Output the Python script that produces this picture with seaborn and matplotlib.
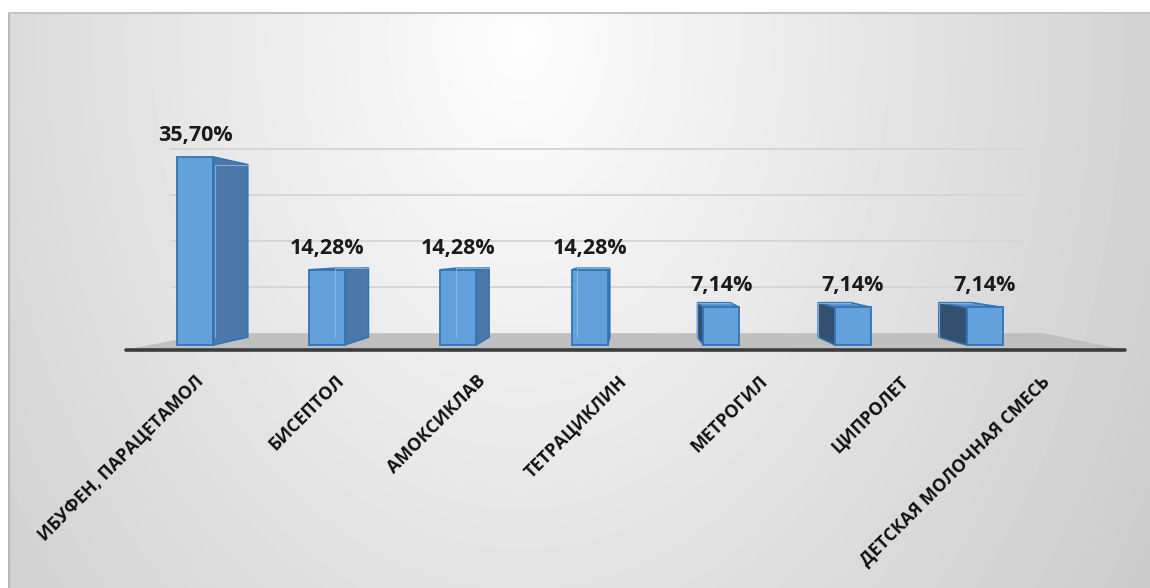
"""Pseudo-3D column chart: share of medicines (percent)."""
import matplotlib
matplotlib.use("Agg")
import matplotlib.pyplot as plt
from matplotlib.patches import Polygon
import numpy as np
import seaborn as sns

# -- Data ----------------------------------------------------------------------
drugs = [
    "ИБУФЕН, ПАРАЦЕТАМОЛ",
    "БИСЕПТОЛ",
    "АМОКСИКЛАВ",
    "ТЕТРАЦИКЛИН",
    "МЕТРОГИЛ",
    "ЦИПРОЛЕТ",
    "ДЕТСКАЯ МОЛОЧНАЯ СМЕСЬ",
]
shares = [35.70, 14.28, 14.28, 14.28, 7.14, 7.14, 7.14]
grid_values = [10, 20, 30, 40]

# -- Style ---------------------------------------------------------------------
W, H, DPI = 1150, 588, 100
FRONT = "#64a0dc"
EDGE = "#2f75b6"
SIDE_RIGHT = "#4b78a8"
SIDE_LEFT = "#33506f"
TOP = "#5b94cf"
FLOOR = "#bfbfbf"

# perspective: vanishing point (data units) and depth factors
VP_X, VP_Y = 3.32, 18.0
BAR_DEPTH = 0.083
FLOOR_FRONT, FLOOR_BACK = -0.05, 0.125
FLOOR_X = (-0.34, 6.89)

sns.set_theme(style="white")
plt.rcParams["font.family"] = ["Open Sans", "DejaVu Sans"]


def proj(x, y, t):
    return x + t * (VP_X - x), y + t * (VP_Y - y)


fig = plt.figure(figsize=(W / DPI, H / DPI), dpi=DPI)
fig.patch.set_facecolor("white")

# -- Background gradient -------------------------------------------------------
bg = fig.add_axes([8 / W, 0, 1 - 8 / W, (H - 12) / H], zorder=-5)
yy, xx = np.mgrid[12:H, 8:W]
dist = np.sqrt(((xx - 520) / 650.0) ** 2 + ((yy - 40) / 900.0) ** 2)
shade = np.clip(253 - 44 * dist, 0, 255) / 255.0
bg.imshow(shade, cmap="gray", vmin=0, vmax=1, aspect="auto",
          extent=[0, 1, 0, 1], interpolation="bilinear")
bg.axvline(0.001, color="#b8b8b8", lw=1.5)
bg.axhline(0.999, color="#c4c4c4", lw=1.5)
bg.set_axis_off()

# -- Main axes -----------------------------------------------------------------
ax = fig.add_axes([0, (H - 372) / H, 1, 372 / H])
ax.set_facecolor("none")
sns.barplot(x=drugs, y=shares, color=FRONT, width=0.274, saturation=1,
            edgecolor=EDGE, linewidth=1.3, ax=ax, zorder=4)
ax.set_xlim(-1.482, 7.257)
ax.set_ylim(-5.12, 65.46)
bars = ax.containers[0]

# floor
fl, fr = FLOOR_X
floor_pts = [proj(fl, 0, FLOOR_FRONT), proj(fr, 0, FLOOR_FRONT),
             proj(fr, 0, FLOOR_BACK), proj(fl, 0, FLOOR_BACK)]
ax.add_patch(Polygon(floor_pts, closed=True, facecolor=FLOOR, edgecolor="none", zorder=1))
ax.plot([floor_pts[0][0], floor_pts[1][0]], [floor_pts[0][1], floor_pts[1][1]],
        color="#3c3c3c", lw=2.6, solid_capstyle="round", zorder=2)

# back-wall gridlines
for v in grid_values:
    x1, y1 = proj(fl, v, FLOOR_BACK)
    x2, y2 = proj(fr, v, FLOOR_BACK)
    ax.plot([x1 - 0.3, x2 - 0.15], [y1, y2], color="#d6d6d6", lw=1.4, zorder=0.5)

# side / top faces of each column
for p in bars:
    x0, w, h = p.get_x(), p.get_width(), p.get_height()
    x1 = x0 + w
    if x1 < VP_X:
        face = [(x1, 0), (x1, h), proj(x1, h, BAR_DEPTH), proj(x1, 0, BAR_DEPTH)]
        ax.add_patch(Polygon(face, facecolor=SIDE_RIGHT, edgecolor=EDGE, lw=1.1, zorder=3))
    if x0 > VP_X:
        face = [(x0, 0), (x0, h), proj(x0, h, BAR_DEPTH), proj(x0, 0, BAR_DEPTH)]
        ax.add_patch(Polygon(face, facecolor=SIDE_LEFT, edgecolor=EDGE, lw=1.1, zorder=3))
    if h < VP_Y:
        face = [(x0, h), (x1, h), proj(x1, h, BAR_DEPTH), proj(x0, h, BAR_DEPTH)]
        ax.add_patch(Polygon(face, facecolor=TOP, edgecolor=EDGE, lw=1.1, zorder=3))
    # faint back edges seen through the translucent front
    bx0, by0 = proj(x0, 0, BAR_DEPTH)
    bx1, by1 = proj(x1, h, BAR_DEPTH)
    ax.plot([bx0, bx0, bx1], [by0, by1, by1], color="#9cc3ea", lw=0.8, alpha=0.7, zorder=4.5)

ax.bar_label(bars, labels=[f"{v:.2f}%".replace(".", ",") for v in shares],
             padding=8, fontsize=15.5, fontweight="bold", color="#1a1a1a")

# category labels along the front edge of the floor
tick_pos = [VP_X + 1.071 * (i - VP_X) + 0.327 for i in range(len(drugs))]
ax.set_xticks(tick_pos, drugs, rotation=45, ha="right",
              fontsize=12.8, fontweight="bold", color="#111111")
ax.tick_params(axis="x", length=0, pad=0)
ax.set_yticks([])
ax.set_xlabel("")
sns.despine(ax=ax, left=True, bottom=True)

fig.savefig("out.png", dpi=DPI)
